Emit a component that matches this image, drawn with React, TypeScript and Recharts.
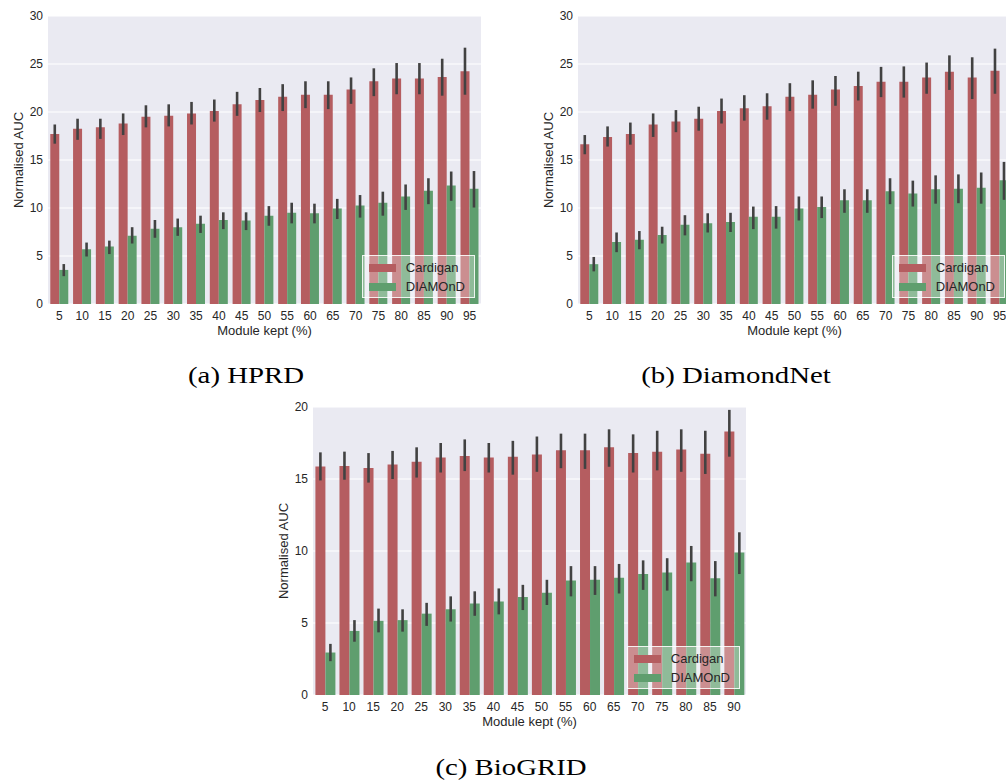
import React from "react";
import { BarChart, Bar, XAxis, YAxis, CartesianGrid, ErrorBar, Legend } from "recharts";

const FONT = '"Liberation Sans", Arial, sans-serif';
const RED = "#b55d60";
const GREEN = "#5f9e6e";
const TEXT = "#262626";

// x categories: share of the module kept (%)
const keptA = ["5", "10", "15", "20", "25", "30", "35", "40", "45", "50", "55", "60", "65", "70", "75", "80", "85", "90", "95"];
const keptC = keptA.slice(0, 18);

// HPRD
const hprdCardigan = [17.7, 18.25, 18.4, 18.8, 19.5, 19.6, 19.85, 20.1, 20.8, 21.25, 21.6, 21.8, 21.8, 22.35, 23.2, 23.5, 23.5, 23.65, 24.25];
const hprdCardiganLo = [16.7, 17.1, 17.2, 17.6, 18.4, 18.5, 18.7, 19.0, 19.6, 20.0, 20.1, 20.4, 20.3, 20.85, 21.65, 21.85, 21.85, 21.7, 21.8];
const hprdCardiganHi = [18.7, 19.3, 19.3, 19.85, 20.7, 20.8, 21.05, 21.3, 22.1, 22.5, 22.9, 23.2, 23.2, 23.6, 24.55, 25.1, 25.1, 25.55, 26.7];
const hprdDiamond = [3.55, 5.7, 6.0, 7.1, 7.85, 8.0, 8.35, 8.75, 8.7, 9.2, 9.5, 9.45, 9.95, 10.25, 10.55, 11.2, 11.8, 12.35, 12.0];
const hprdDiamondLo = [2.9, 4.95, 5.2, 6.3, 6.9, 7.1, 7.4, 7.8, 7.7, 8.15, 8.4, 8.4, 8.85, 9.0, 9.2, 9.8, 10.4, 10.75, 10.05];
const hprdDiamondHi = [4.16, 6.4, 6.6, 8.0, 8.75, 8.9, 9.2, 9.55, 9.55, 10.2, 10.55, 10.45, 10.95, 11.35, 11.7, 12.45, 13.1, 13.8, 13.85];

// DiamondNet
const dnCardigan = [16.65, 17.4, 17.7, 18.7, 19.0, 19.3, 20.1, 20.4, 20.6, 21.6, 21.8, 22.35, 22.7, 23.15, 23.15, 23.6, 24.2, 23.6, 24.3];
const dnCardiganLo = [15.6, 16.4, 16.6, 17.4, 17.9, 18.05, 18.8, 19.1, 19.2, 20.1, 20.35, 20.65, 21.2, 21.55, 21.5, 21.9, 22.3, 21.35, 21.9];
const dnCardiganHi = [17.6, 18.5, 18.9, 19.85, 20.2, 20.55, 21.4, 21.75, 21.95, 23.0, 23.3, 23.75, 24.2, 24.7, 24.75, 25.15, 25.9, 25.7, 26.6];
const dnDiamond = [4.15, 6.45, 6.7, 7.2, 8.25, 8.4, 8.55, 9.1, 9.1, 9.95, 10.1, 10.8, 10.8, 11.75, 11.5, 11.95, 12.0, 12.1, 12.9];
const dnDiamondLo = [3.4, 5.4, 5.7, 6.3, 7.15, 7.45, 7.5, 7.8, 7.85, 8.7, 8.95, 9.5, 9.5, 10.4, 10.15, 10.45, 10.5, 10.45, 10.85];
const dnDiamondHi = [4.9, 7.45, 7.6, 8.05, 9.25, 9.45, 9.5, 10.15, 10.2, 11.2, 11.2, 11.95, 11.95, 13.1, 12.85, 13.4, 13.5, 13.7, 14.8];

// BioGRID
const bgCardigan = [15.87, 15.9, 15.77, 16.0, 16.2, 16.5, 16.6, 16.5, 16.55, 16.7, 17.0, 17.0, 17.2, 16.8, 16.9, 17.05, 16.75, 18.3];
const bgCardiganLo = [14.9, 14.95, 14.75, 15.0, 15.1, 15.45, 15.55, 15.45, 15.3, 15.5, 15.75, 15.7, 15.85, 15.45, 15.6, 15.5, 15.35, 16.55];
const bgCardiganHi = [16.85, 16.9, 16.8, 16.95, 17.2, 17.5, 17.75, 17.5, 17.65, 17.95, 18.15, 18.15, 18.45, 18.1, 18.35, 18.45, 18.35, 19.8];
const bgDiamond = [2.95, 4.45, 5.15, 5.2, 5.65, 5.95, 6.35, 6.5, 6.8, 7.1, 7.95, 8.0, 8.15, 8.4, 8.5, 9.2, 8.1, 9.9];
const bgDiamondLo = [2.35, 3.7, 4.35, 4.4, 4.8, 5.1, 5.5, 5.6, 5.9, 6.25, 6.85, 6.95, 7.05, 7.3, 7.25, 7.9, 6.85, 8.4];
const bgDiamondHi = [3.55, 5.2, 6.0, 5.95, 6.4, 6.85, 7.2, 7.4, 7.65, 8.0, 8.95, 8.95, 9.1, 9.35, 9.5, 10.35, 9.3, 11.3];

const ticks30 = [0, 5, 10, 15, 20, 25, 30];
const ticks20 = [0, 5, 10, 15, 20];

type PanelProps = {
  cats: string[];
  cardigan: number[];
  cardiganLo: number[];
  cardiganHi: number[];
  diamond: number[];
  diamondLo: number[];
  diamondHi: number[];
  yMax: number;
  yTicks: number[];
};

function LegendBox({ payload }: any) {
  return (
    <div
      style={{
        background: "rgba(255,255,255,0.3)",
        border: "1px solid rgba(255,255,255,0.85)",
        padding: "2px 9px 1px 6px",
        fontFamily: FONT,
        fontSize: 13,
        color: TEXT,
        lineHeight: "19px",
      }}
    >
      {(payload || []).map((p: any) => (
        <div key={p.value} style={{ display: "flex", alignItems: "center" }}>
          <span style={{ display: "inline-block", width: 27, height: 8, background: p.color, marginRight: 10 }} />
          {p.value}
        </div>
      ))}
    </div>
  );
}

function AucPanel(props: PanelProps) {
  const { cats, cardigan, cardiganLo, cardiganHi, diamond, diamondLo, diamondHi, yMax, yTicks } = props;
  const data = cats.map((name, i) => ({
    name,
    cardigan: cardigan[i],
    cardiganErr: [cardigan[i] - cardiganLo[i], cardiganHi[i] - cardigan[i]],
    diamond: diamond[i],
    diamondErr: [diamond[i] - diamondLo[i], diamondHi[i] - diamond[i]],
  }));

  return (
    <BarChart
      width={490}
      height={345}
      data={data}
      margin={{ top: 16, right: 9, left: 0, bottom: 1 }}
      barCategoryGap="10%"
      barGap={0}
    >
      <CartesianGrid vertical={false} stroke="#ffffff" strokeWidth={1.2} fill="#eaeaf2" />
      <XAxis
        dataKey="name"
        height={40}
        interval={0}
        tickLine={false}
        axisLine={false}
        tickSize={0}
        tickMargin={7}
        tick={{ fontSize: 12, fill: TEXT, fontFamily: FONT }}
        label={{ value: "Module kept (%)", position: "insideBottom", offset: 9, fontSize: 13, fill: TEXT, fontFamily: FONT }}
      />
      <YAxis
        width={48}
        domain={[0, yMax]}
        ticks={yTicks}
        allowDataOverflow
        tickLine={false}
        axisLine={false}
        tickSize={0}
        tickMargin={5}
        tick={{ fontSize: 12, fill: TEXT, fontFamily: FONT }}
        label={{
          value: "Normalised AUC",
          angle: -90,
          position: "insideLeft",
          offset: 18,
          fontSize: 13,
          fill: TEXT,
          fontFamily: FONT,
          style: { textAnchor: "middle" },
        }}
      />
      <Legend
        layout="horizontal"
        verticalAlign="middle"
        align="center"
        content={<LegendBox />}
        wrapperStyle={{ left: "auto", top: "auto", right: 15, bottom: 47, width: "auto", height: "auto" }}
      />
      <Bar dataKey="cardigan" name="Cardigan" fill={RED} isAnimationActive={false}>
        <ErrorBar dataKey="cardiganErr" direction="y" width={0} strokeWidth={2.6} stroke="#424242" isAnimationActive={false} />
      </Bar>
      <Bar dataKey="diamond" name="DIAMOnD" fill={GREEN} isAnimationActive={false}>
        <ErrorBar dataKey="diamondErr" direction="y" width={0} strokeWidth={2.6} stroke="#424242" isAnimationActive={false} />
      </Bar>
    </BarChart>
  );
}

function Caption({ text, cx, cy }: { text: string; cx: number; cy: number }) {
  return (
    <div
      style={{
        position: "absolute",
        left: cx - 150,
        top: cy - 13,
        width: 300,
        textAlign: "center",
        fontFamily: '"Liberation Serif", "Times New Roman", serif',
        fontSize: 24,
        lineHeight: "26px",
        color: "#000",
        transform: "scaleX(1.2)",
      }}
    >
      {text}
    </div>
  );
}

export default function App() {
  return (
    <div style={{ position: "absolute", left: 0, top: 0, width: 1006, height: 781, overflow: "hidden", background: "#fff" }}>
      <div style={{ position: "absolute", left: 0, top: 0 }}>
        <AucPanel
          cats={keptA}
          cardigan={hprdCardigan}
          cardiganLo={hprdCardiganLo}
          cardiganHi={hprdCardiganHi}
          diamond={hprdDiamond}
          diamondLo={hprdDiamondLo}
          diamondHi={hprdDiamondHi}
          yMax={30}
          yTicks={ticks30}
        />
      </div>
      <div style={{ position: "absolute", left: 530, top: 0 }}>
        <AucPanel
          cats={keptA}
          cardigan={dnCardigan}
          cardiganLo={dnCardiganLo}
          cardiganHi={dnCardiganHi}
          diamond={dnDiamond}
          diamondLo={dnDiamondLo}
          diamondHi={dnDiamondHi}
          yMax={30}
          yTicks={ticks30}
        />
      </div>
      <div style={{ position: "absolute", left: 265, top: 391 }}>
        <AucPanel
          cats={keptC}
          cardigan={bgCardigan}
          cardiganLo={bgCardiganLo}
          cardiganHi={bgCardiganHi}
          diamond={bgDiamond}
          diamondLo={bgDiamondLo}
          diamondHi={bgDiamondHi}
          yMax={20}
          yTicks={ticks20}
        />
      </div>
      <Caption text="(a) HPRD" cx={246} cy={375} />
      <Caption text="(b) DiamondNet" cx={736} cy={375} />
      <Caption text="(c) BioGRID" cx={511} cy={767} />
    </div>
  );
}
